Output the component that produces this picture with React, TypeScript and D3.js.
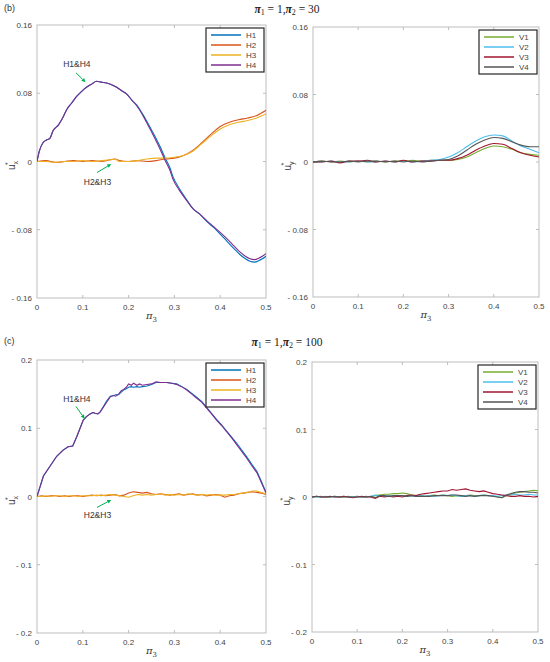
import { useEffect, useRef } from 'react';
import * as d3 from 'd3';

// ---- data ----
const xTicks = [0, 0.1, 0.2, 0.3, 0.4, 0.5];
const xTickLabels = ['0', '0.1', '0.2', '0.3', '0.4', '0.5'];
const bYTicks = [-0.16, -0.08, 0, 0.08, 0.16];
const bYTickLabels = ['- 0.16', '- 0.08', '0', '0.08', '0.16'];
const cYTicks = [-0.2, -0.1, 0, 0.1, 0.2];
const cYTickLabels = ['- 0.2', '- 0.1', '0', '0.1', '0.2'];

const hNames = ['H1', 'H2', 'H3', 'H4'];
const vNames = ['V1', 'V2', 'V3', 'V4'];
const hColors = ['#0072BD', '#D95319', '#EDB120', '#7E2F8E'];
const vColors = ['#77AC30', '#4DBEEE', '#A2142F', '#555555'];

// (b) pi2 = 30, horizontal
const bXH14 = [0, 0.005, 0.013, 0.02, 0.028, 0.035, 0.047, 0.055, 0.065, 0.075,
  0.086, 0.097, 0.108, 0.12, 0.13, 0.14, 0.152, 0.163, 0.174, 0.185,
  0.196, 0.207, 0.218, 0.229, 0.24, 0.25, 0.26, 0.27, 0.279, 0.29,
  0.297, 0.31, 0.327, 0.34, 0.356, 0.37, 0.385, 0.4, 0.414, 0.43,
  0.443, 0.455, 0.465, 0.475, 0.485, 0.492, 0.5];
const bH4 = [0, 0.012, 0.022, 0.025, 0.027, 0.036, 0.043, 0.05, 0.061, 0.068,
  0.076, 0.082, 0.087, 0.091, 0.094, 0.093, 0.092, 0.09, 0.087, 0.083,
  0.079, 0.072, 0.065, 0.056, 0.045, 0.035, 0.024, 0.013, 0.002, -0.01,
  -0.021, -0.033, -0.046, -0.055, -0.062, -0.069, -0.076, -0.083, -0.09, -0.099,
  -0.106, -0.111, -0.114, -0.115, -0.113, -0.111, -0.108];
const bH1 = [0, 0.012, 0.022, 0.025, 0.027, 0.036, 0.043, 0.05, 0.061, 0.068,
  0.076, 0.082, 0.087, 0.091, 0.094, 0.093, 0.092, 0.09, 0.087, 0.083,
  0.079, 0.072, 0.066, 0.057, 0.047, 0.037, 0.027, 0.016, 0.005, -0.007,
  -0.018, -0.031, -0.045, -0.055, -0.062, -0.07, -0.077, -0.085, -0.093, -0.102,
  -0.109, -0.114, -0.117, -0.118, -0.116, -0.114, -0.111];
const bXH23 = [0, 0.02, 0.04, 0.06, 0.08, 0.1, 0.12, 0.14, 0.16, 0.17, 0.18, 0.2, 0.22,
  0.24, 0.26, 0.28, 0.3, 0.32, 0.34, 0.36, 0.38, 0.4, 0.42, 0.44, 0.46, 0.48, 0.5];
const bH2 = [0, 0.001, -0.001, 0, 0.001, 0, 0.001, 0, 0.002, 0.003, 0.001, 0, 0.001,
  0, 0.001, 0.003, 0.004, 0.007, 0.013, 0.022, 0.032, 0.041, 0.046, 0.049, 0.051, 0.054, 0.06];
const bH3 = [0, 0, -0.001, 0, 0, 0.001, 0, 0.001, 0.002, 0.003, 0, 0, 0.001,
  0.003, 0.004, 0.004, 0.005, 0.007, 0.012, 0.021, 0.03, 0.038, 0.043, 0.046, 0.048, 0.051, 0.056];

// (b) pi2 = 30, vertical
const bXV = [0, 0.02, 0.04, 0.06, 0.08, 0.1, 0.12, 0.14, 0.16, 0.18, 0.2, 0.22, 0.24,
  0.26, 0.28, 0.3, 0.32, 0.34, 0.36, 0.38, 0.4, 0.42, 0.44, 0.46, 0.48, 0.5];
const bV1 = [0, 0.001, 0, 0.001, 0, 0.001, 0, 0.001, 0, 0.001, 0.001, 0.002, 0.001,
  0.002, 0.002, 0.002, 0.003, 0.006, 0.011, 0.016, 0.019, 0.018, 0.015, 0.011, 0.009, 0.008];
const bV2 = [0, 0, 0.001, 0, 0, 0.001, 0, 0, 0.001, 0, 0.001, 0, 0.001,
  0.002, 0.003, 0.006, 0.011, 0.018, 0.025, 0.03, 0.032, 0.031, 0.025, 0.019, 0.015, 0.011];
const bV3 = [0, 0, 0.001, -0.001, 0.001, 0.001, 0.002, 0, 0.001, 0, 0.002, 0, 0.001,
  0.001, 0.002, 0.002, 0.004, 0.008, 0.014, 0.019, 0.022, 0.021, 0.016, 0.011, 0.008, 0.006];
const bV4 = [0, 0.001, 0, 0, 0.001, 0, 0.001, 0.001, 0, 0.001, 0, 0.001, 0,
  0.001, 0.002, 0.003, 0.007, 0.014, 0.021, 0.026, 0.029, 0.028, 0.024, 0.02, 0.018, 0.018];

// (c) pi2 = 100, horizontal
const cXH14 = [0, 0.014, 0.028, 0.043, 0.057, 0.068, 0.078, 0.087, 0.094, 0.101,
  0.108, 0.116, 0.122, 0.127, 0.133, 0.138, 0.145, 0.152, 0.16, 0.167,
  0.172, 0.178, 0.184, 0.189, 0.195, 0.2, 0.206, 0.211, 0.218, 0.224,
  0.23, 0.24, 0.25, 0.26, 0.27, 0.283, 0.294, 0.305, 0.316, 0.327,
  0.338, 0.349, 0.36, 0.37, 0.381, 0.392, 0.403, 0.414, 0.425, 0.436,
  0.447, 0.458, 0.469, 0.48, 0.49, 0.5];
const cH4 = [0, 0.03, 0.044, 0.059, 0.068, 0.073, 0.074, 0.088, 0.1, 0.112,
  0.117, 0.121, 0.123, 0.122, 0.121, 0.124, 0.131, 0.138, 0.146, 0.148,
  0.147, 0.15, 0.155, 0.157, 0.16, 0.165, 0.163, 0.166, 0.163, 0.165,
  0.163, 0.164, 0.165, 0.168, 0.167, 0.167, 0.166, 0.164, 0.161, 0.156,
  0.15, 0.144, 0.138, 0.13, 0.121, 0.112, 0.104, 0.095, 0.086, 0.076,
  0.066, 0.056, 0.045, 0.035, 0.02, 0.005];
const cH1 = [0, 0.03, 0.044, 0.059, 0.068, 0.073, 0.074, 0.088, 0.1, 0.112,
  0.117, 0.121, 0.123, 0.122, 0.121, 0.124, 0.132, 0.14, 0.147, 0.148,
  0.149, 0.149, 0.153, 0.156, 0.158, 0.16, 0.161, 0.16, 0.161, 0.16,
  0.161, 0.162, 0.164, 0.167, 0.167, 0.167, 0.166, 0.165, 0.161, 0.157,
  0.151, 0.145, 0.139, 0.131, 0.122, 0.113, 0.105, 0.096, 0.087, 0.078,
  0.068, 0.058, 0.047, 0.037, 0.022, 0.006];
const cSteps = d3.range(51).map(i => i / 100);
const cH2 = [0, 0.001, 0, 0.001, 0.001, 0, 0.001, 0, 0.001, 0.001,
  0, 0.001, 0.002, 0.001, 0.002, 0.001, 0.002, 0.003, 0.001, 0.002,
  0.005, 0.007, 0.006, 0.005, 0.006, 0.004, 0.003, 0.004, 0.003, 0.002,
  0.003, 0.004, 0.002, 0.003, 0.004, 0.002, 0.003, 0.001, 0.002, 0.003,
  0.002, -0.001, 0.001, 0.002, 0.004, 0.005, 0.006, 0.007, 0.006, 0.005, 0.003];
const cH3 = [0, 0, 0.001, 0, 0.001, 0.001, 0, 0.001, 0.001, 0,
  0.001, 0.001, 0.001, 0.002, 0.001, 0.002, 0.003, 0.002, 0.001, 0,
  -0.001, 0.001, 0.003, 0.002, 0.003, 0.002, 0.003, 0.004, 0.002, 0.003,
  0.002, 0.003, 0.002, 0.004, 0.003, 0.002, 0.003, 0.002, 0.003, 0.002,
  0.002, 0.002, 0.003, 0.003, 0.004, 0.005, 0.006, 0.008, 0.008, 0.006, 0.004];

// (c) pi2 = 100, vertical
const cV1 = [0, 0, 0.001, 0, 0, 0.001, 0, 0, 0.001, 0,
  0.001, 0, 0.001, 0, 0.002, 0.003, 0.004, 0.004, 0.005, 0.005,
  0.006, 0.005, 0.003, 0.002, 0.002, 0.001, 0.002, 0.003, 0.002, 0.003,
  0.002, 0.001, 0.002, 0.001, 0.002, 0.003, 0.002, 0.002, 0.003, 0.002,
  0.001, 0, -0.001, 0.002, 0.004, 0.006, 0.007, 0.008, 0.009, 0.01, 0.009];
const cV2 = [0, 0, 0, 0.001, 0, 0, 0, 0.001, 0, 0,
  0.001, 0, 0, 0.001, 0.003, 0.002, 0.001, 0.002, 0.001, 0.002,
  0.002, 0.001, 0.002, 0.001, 0.002, 0.001, 0.002, 0.001, 0.002, 0.003,
  0.002, 0.003, 0.002, 0.001, 0.002, 0.002, 0.001, 0.002, 0.003, 0.002,
  0.002, 0.001, 0.002, 0.003, 0.003, 0.004, 0.003, 0.003, 0.004, 0.003, 0.003];
const cV3 = [0, 0.001, 0, 0, 0.001, 0, 0, 0.001, 0, -0.001,
  0, 0.001, 0, 0, -0.002, 0.001, 0, 0.001, 0, 0.001,
  0, 0.002, 0.003, 0.002, 0.004, 0.005, 0.006, 0.007, 0.008, 0.009,
  0.009, 0.011, 0.01, 0.011, 0.012, 0.01, 0.009, 0.008, 0.009, 0.007,
  0.005, 0.004, 0.003, 0.002, 0.001, 0.001, 0.002, 0.001, 0.001, 0, 0.001];
const cV4 = [0, 0.001, 0, 0, 0, 0.001, 0, 0, 0, 0,
  0, 0, 0, 0.001, -0.001, 0.002, 0.002, 0.001, 0.002, 0.002,
  0.002, 0.001, 0.002, 0.001, 0.001, 0.001, 0.001, 0.002, 0.002, 0.002,
  0.002, 0.003, 0.003, 0.002, 0.001, 0.002, 0.001, 0.002, 0.002, 0.002,
  0.001, 0, -0.001, 0.003, 0.005, 0.007, 0.008, 0.008, 0.007, 0.007, 0.006];

interface Series { x: number[]; y: number[]; color: string; }
interface Note { text: string; tx: number; ty: number; ax: number; ay: number; bx: number; by: number; }
interface PanelOpts {
  left: number; right: number; top: number; bottom: number;
  yMax: number; yTicks: number[]; yLabels: string[];
  series: Series[]; names: string[]; colors: string[];
  sub: string; curve: d3.CurveFactory; notes: Note[];
}

const AXIS = '#bdbdbd';
const TEXT = '#444';
const SANS = 'Liberation Sans, Arial, sans-serif';
const SERIF = 'DejaVu Serif, serif';

function drawPanel(svg: d3.Selection<SVGSVGElement, unknown, null, undefined>, o: PanelOpts) {
  const x = d3.scaleLinear().domain([0, 0.5]).range([o.left, o.right]);
  const y = d3.scaleLinear().domain([-o.yMax, o.yMax]).range([o.bottom, o.top]);
  const g = svg.append('g');

  g.append('rect')
    .attr('x', o.left).attr('y', o.top)
    .attr('width', o.right - o.left).attr('height', o.bottom - o.top)
    .attr('fill', 'white').attr('stroke', AXIS).attr('stroke-width', 1);

  // inward ticks on all four sides
  const tl = 3;
  xTicks.slice(1, -1).forEach(t => {
    g.append('line').attr('x1', x(t)).attr('x2', x(t)).attr('y1', o.bottom).attr('y2', o.bottom - tl).attr('stroke', AXIS);
    g.append('line').attr('x1', x(t)).attr('x2', x(t)).attr('y1', o.top).attr('y2', o.top + tl).attr('stroke', AXIS);
  });
  o.yTicks.slice(1, -1).forEach(t => {
    g.append('line').attr('x1', o.left).attr('x2', o.left + tl).attr('y1', y(t)).attr('y2', y(t)).attr('stroke', AXIS);
    g.append('line').attr('x1', o.right).attr('x2', o.right - tl).attr('y1', y(t)).attr('y2', y(t)).attr('stroke', AXIS);
  });

  g.selectAll('text.xt').data(xTicks).enter().append('text')
    .attr('class', 'xt')
    .attr('x', d => x(d)).attr('y', o.bottom + 12)
    .attr('text-anchor', 'middle')
    .attr('font-family', SANS).attr('font-size', 8).attr('fill', TEXT)
    .text((d, i) => xTickLabels[i]);

  g.selectAll('text.yt').data(o.yTicks).enter().append('text')
    .attr('class', 'yt')
    .attr('x', o.left - 5).attr('y', d => y(d) + 3)
    .attr('text-anchor', 'end')
    .attr('font-family', SANS).attr('font-size', 8).attr('fill', TEXT)
    .text((d, i) => o.yLabels[i]);

  // x label pi_3
  const xl = g.append('text')
    .attr('x', x(0.25)).attr('y', o.bottom + 21)
    .attr('text-anchor', 'middle')
    .attr('font-family', SERIF).attr('font-size', 10).attr('fill', '#333');
  xl.append('tspan').attr('font-style', 'italic').text('π');
  xl.append('tspan').attr('font-size', 7).attr('dy', 3).text('3');

  // y label u*_sub
  const yl = g.append('text')
    .attr('transform', `translate(${o.left - 22},${y(0) + 4}) rotate(-90)`)
    .attr('text-anchor', 'middle')
    .attr('font-family', SANS).attr('font-size', 10).attr('fill', '#333');
  yl.append('tspan').text('u');
  yl.append('tspan').attr('font-size', 7).attr('dy', 3).text(o.sub);
  yl.append('tspan').attr('font-size', 7).attr('dx', -4).attr('dy', -8).text('*');

  const clipId = `clip-${o.left}-${o.top}`;
  svg.append('clipPath').attr('id', clipId).append('rect')
    .attr('x', o.left).attr('y', o.top).attr('width', o.right - o.left).attr('height', o.bottom - o.top);

  const line = d3.line<[number, number]>()
    .x(d => x(d[0])).y(d => y(d[1])).curve(o.curve);

  o.series.forEach(s => {
    g.append('path')
      .datum(s.x.map((v, i) => [v, s.y[i]] as [number, number]))
      .attr('d', line)
      .attr('fill', 'none')
      .attr('stroke', s.color)
      .attr('stroke-width', 1.1)
      .attr('clip-path', `url(#${clipId})`);
  });

  // annotations with green arrows
  o.notes.forEach(n => {
    g.append('text')
      .attr('x', x(n.tx)).attr('y', y(n.ty))
      .attr('text-anchor', 'middle')
      .attr('font-family', SANS).attr('font-size', 8.5).attr('fill', '#333')
      .text(n.text);
    const x1 = x(n.ax), y1 = y(n.ay), x2 = x(n.bx), y2 = y(n.by);
    const ang = Math.atan2(y2 - y1, x2 - x1);
    const hl = 4, hw = 2;
    const bxp = x2 - hl * Math.cos(ang), byp = y2 - hl * Math.sin(ang);
    g.append('line').attr('x1', x1).attr('y1', y1).attr('x2', bxp).attr('y2', byp)
      .attr('stroke', '#00b050').attr('stroke-width', 1);
    g.append('polygon')
      .attr('points', [
        [x2, y2],
        [bxp + hw * Math.sin(ang), byp - hw * Math.cos(ang)],
        [bxp - hw * Math.sin(ang), byp + hw * Math.cos(ang)]
      ].map(p => p.join(',')).join(' '))
      .attr('fill', '#00b050');
  });

  // legend
  const lw = 58, lh = 44;
  const lx = o.right - 2 - lw, ly = o.top + 3;
  g.append('rect').attr('x', lx).attr('y', ly).attr('width', lw).attr('height', lh)
    .attr('fill', 'white').attr('stroke', '#262626').attr('stroke-width', 1.2);
  o.names.forEach((nm, i) => {
    const yy = ly + 7 + i * 10;
    g.append('line').attr('x1', lx + 5).attr('x2', lx + 35).attr('y1', yy).attr('y2', yy)
      .attr('stroke', o.colors[i]).attr('stroke-width', 1.5);
    g.append('text').attr('x', lx + 40).attr('y', yy + 3)
      .attr('font-family', SANS).attr('font-size', 8).attr('fill', TEXT).text(nm);
  });
}

function drawTitle(svg: d3.Selection<SVGSVGElement, unknown, null, undefined>, tag: string, pi2: string, ty: number) {
  svg.append('text').attr('x', 4).attr('y', ty - 2)
    .attr('font-family', SANS).attr('font-size', 9).attr('fill', '#333').text(tag);
  const t = svg.append('text').attr('x', 287).attr('y', ty)
    .attr('text-anchor', 'middle')
    .attr('font-family', 'Liberation Serif, serif').attr('font-size', 11.5).attr('fill', '#222');
  t.append('tspan').attr('font-style', 'italic').attr('font-weight', 'bold').text('π');
  t.append('tspan').attr('font-size', 8).attr('dy', 2).text('1');
  t.append('tspan').attr('dy', -2).text(' = 1,');
  t.append('tspan').attr('font-style', 'italic').attr('font-weight', 'bold').text('π');
  t.append('tspan').attr('font-size', 8).attr('dy', 2).text('2');
  t.append('tspan').attr('dy', -2).text(` = ${pi2}`);
}

export default function App() {
  const svgRef = useRef<SVGSVGElement>(null);

  useEffect(() => {
    if (!svgRef.current) return;
    document.body.style.margin = '0';
    const svg = d3.select(svgRef.current);
    svg.selectAll('*').remove();

    drawTitle(svg, '(b)', '30', 13);
    drawTitle(svg, '(c)', '100', 346);

    drawPanel(svg, {
      left: 37, right: 266, top: 25, bottom: 298,
      yMax: 0.16, yTicks: bYTicks, yLabels: bYTickLabels,
      series: [
        { x: bXH14, y: bH1, color: hColors[0] },
        { x: bXH23, y: bH2, color: hColors[1] },
        { x: bXH23, y: bH3, color: hColors[2] },
        { x: bXH14, y: bH4, color: hColors[3] }
      ],
      names: hNames, colors: hColors, sub: 'x', curve: d3.curveMonotoneX,
      notes: [
        { text: 'H1&H4', tx: 0.087, ty: 0.111, ax: 0.085, ay: 0.104, bx: 0.106, by: 0.093 },
        { text: 'H2&H3', tx: 0.132, ty: -0.027, ax: 0.131, ay: -0.013, bx: 0.162, by: -0.003 }
      ]
    });

    drawPanel(svg, {
      left: 313, right: 539, top: 27, bottom: 297,
      yMax: 0.16, yTicks: bYTicks, yLabels: bYTickLabels,
      series: [
        { x: bXV, y: bV1, color: vColors[0] },
        { x: bXV, y: bV2, color: vColors[1] },
        { x: bXV, y: bV3, color: vColors[2] },
        { x: bXV, y: bV4, color: vColors[3] }
      ],
      names: vNames, colors: vColors, sub: 'y', curve: d3.curveMonotoneX, notes: []
    });

    drawPanel(svg, {
      left: 37, right: 266, top: 360, bottom: 633,
      yMax: 0.2, yTicks: cYTicks, yLabels: cYTickLabels,
      series: [
        { x: cXH14, y: cH1, color: hColors[0] },
        { x: cSteps, y: cH2, color: hColors[1] },
        { x: cSteps, y: cH3, color: hColors[2] },
        { x: cXH14, y: cH4, color: hColors[3] }
      ],
      names: hNames, colors: hColors, sub: 'x', curve: d3.curveLinear,
      notes: [
        { text: 'H1&H4', tx: 0.087, ty: 0.139, ax: 0.085, ay: 0.132, bx: 0.104, by: 0.114 },
        { text: 'H2&H3', tx: 0.132, ty: -0.032, ax: 0.131, ay: -0.016, bx: 0.162, by: -0.005 }
      ]
    });

    drawPanel(svg, {
      left: 312, right: 538, top: 362, bottom: 632,
      yMax: 0.2, yTicks: cYTicks, yLabels: cYTickLabels,
      series: [
        { x: cSteps, y: cV1, color: vColors[0] },
        { x: cSteps, y: cV2, color: vColors[1] },
        { x: cSteps, y: cV3, color: vColors[2] },
        { x: cSteps, y: cV4, color: vColors[3] }
      ],
      names: vNames, colors: vColors, sub: 'y', curve: d3.curveLinear, notes: []
    });
  }, []);

  return <svg ref={svgRef} width={550} height={662} style={{ display: 'block', background: 'white' }} />;
}
